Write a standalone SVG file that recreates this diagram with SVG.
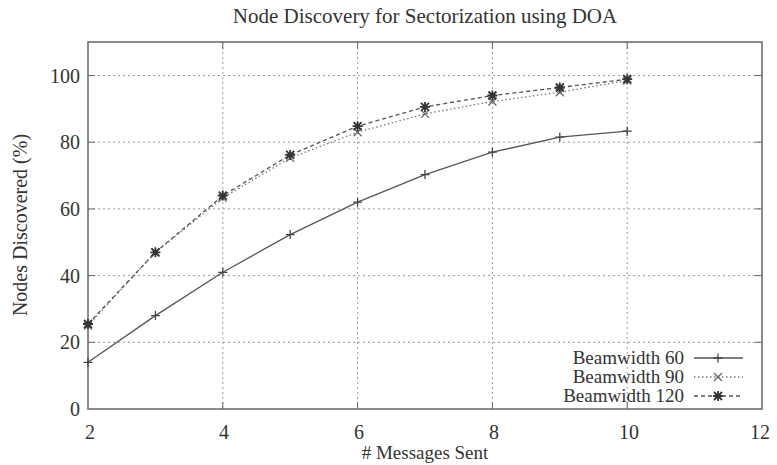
<svg xmlns="http://www.w3.org/2000/svg" width="777" height="465" viewBox="0 0 777 465">
<style>
text{font-family:"Liberation Serif","Times New Roman",serif;font-size:20px;fill:#333}
.lg{font-size:19px}
.grid{stroke:#999;stroke-width:1;stroke-dasharray:2,3;fill:none}
.frame{stroke:#666;stroke-width:1.5;fill:none}
.tick{stroke:#666;stroke-width:1}
.s60{stroke:#555;stroke-width:1.3;fill:none}
.s90{stroke:#777;stroke-width:1.3;fill:none;stroke-dasharray:1.5,2.5}
.s120{stroke:#555;stroke-width:1.3;fill:none;stroke-dasharray:4,3}
.mk60{stroke:#444;stroke-width:1.3;fill:none}
.mk90{stroke:#666;stroke-width:1.3;fill:none}
.mk120{stroke:#333;stroke-width:1.8;fill:none}
</style>
<defs>
<path id="plus" d="M-4.5,0H4.5M0,-4.5V4.5"/>
<path id="cross" d="M-4,-4L4,4M-4,4L4,-4"/>
<path id="star" d="M-5,0H5M0,-5V5M-4,-4L4,4M-4,4L4,-4"/>
</defs>
<rect width="777" height="465" fill="#fff"/>
<text x="425" y="23" text-anchor="middle" style="font-size:21px">Node Discovery for Sectorization using DOA</text>
<g id="grid">
<path class="grid" d="M88,342.3H762M88,275.6H762M88,208.9H762M88,142.2H762M88,75.5H762"/>
<path class="grid" d="M222.8,42V409M357.6,42V409M492.4,42V409M627.2,42V409"/>
</g>
<g id="ticks">
<path class="tick" d="M88,342.3h7M88,275.6h7M88,208.9h7M88,142.2h7M88,75.5h7M762,342.3h-7M762,275.6h-7M762,208.9h-7M762,142.2h-7M762,75.5h-7"/>
<path class="tick" d="M222.8,409v-7M357.6,409v-7M492.4,409v-7M627.2,409v-7M222.8,42v7M357.6,42v7M492.4,42v7M627.2,42v7"/>
</g>
<rect id="frame" class="frame" x="88" y="42" width="674" height="367"/>
<g id="yticklabels" text-anchor="end">
<text x="80" y="416">0</text>
<text x="80" y="349.3">20</text>
<text x="80" y="282.6">40</text>
<text x="80" y="215.9">60</text>
<text x="80" y="149.2">80</text>
<text x="80" y="82.5">100</text>
</g>
<g id="xticklabels" text-anchor="middle">
<text x="90" y="439">2</text>
<text x="224" y="439">4</text>
<text x="359" y="439">6</text>
<text x="494" y="439">8</text>
<text x="629" y="439">10</text>
<text x="760" y="439">12</text>
</g>
<text x="425" y="459" text-anchor="middle" style="font-size:19px">#  Messages Sent</text>
<text transform="translate(27,225) rotate(-90)" text-anchor="middle">Nodes Discovered (%)</text>
<g id="connectors">
<polyline id="line60" class="s60" points="88,362.3 155.4,315.6 222.8,272.3 290.2,234.6 357.6,202.2 425,174.6 492.4,152.2 559.8,137.2 627.2,131.2"/>
<polyline id="line90" class="s90" points="88,325.6 155.4,252.3 222.8,197.9 290.2,157.9 357.6,132.2 425,113.9 492.4,101.5 559.8,92.2 627.2,80.5"/>
<polyline id="line120" class="s120" points="88,324 155.4,252.3 222.8,195.6 290.2,154.9 357.6,126.2 425,106.9 492.4,95.5 559.8,87.5 627.2,79.2"/>
</g>
<g id="markers60" class="mk60">
<use href="#plus" x="88" y="362.3"/><use href="#plus" x="155.4" y="315.6"/><use href="#plus" x="222.8" y="272.3"/><use href="#plus" x="290.2" y="234.6"/><use href="#plus" x="357.6" y="202.2"/><use href="#plus" x="425" y="174.6"/><use href="#plus" x="492.4" y="152.2"/><use href="#plus" x="559.8" y="137.2"/><use href="#plus" x="627.2" y="131.2"/>
</g>
<g id="markers90" class="mk90">
<use href="#cross" x="88" y="325.6"/><use href="#cross" x="155.4" y="252.3"/><use href="#cross" x="222.8" y="197.9"/><use href="#cross" x="290.2" y="157.9"/><use href="#cross" x="357.6" y="132.2"/><use href="#cross" x="425" y="113.9"/><use href="#cross" x="492.4" y="101.5"/><use href="#cross" x="559.8" y="92.2"/><use href="#cross" x="627.2" y="80.5"/>
</g>
<g id="markers120" class="mk120">
<use href="#star" x="88" y="324"/><use href="#star" x="155.4" y="252.3"/><use href="#star" x="222.8" y="195.6"/><use href="#star" x="290.2" y="154.9"/><use href="#star" x="357.6" y="126.2"/><use href="#star" x="425" y="106.9"/><use href="#star" x="492.4" y="95.5"/><use href="#star" x="559.8" y="87.5"/><use href="#star" x="627.2" y="79.2"/>
</g>
<g id="legend">
<text class="lg" x="684" y="364" text-anchor="end">Beamwidth 60</text>
<text class="lg" x="684" y="383" text-anchor="end">Beamwidth 90</text>
<text class="lg" x="684" y="402" text-anchor="end">Beamwidth 120</text>
<path class="s60" d="M694,358H743"/><use href="#plus" x="718" y="358" class="mk60"/>
<path class="s90" d="M694,377H743"/><use href="#cross" x="718" y="377" class="mk90"/>
<path class="s120" d="M694,396H743"/><use href="#star" x="718" y="396" class="mk120"/>
</g>
</svg>
